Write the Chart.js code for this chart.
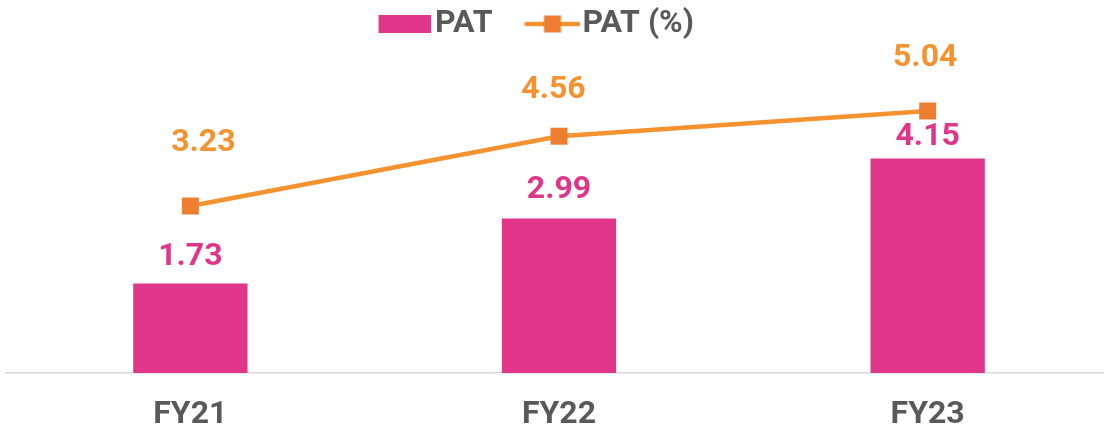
<!DOCTYPE html>
<html>
<head>
<meta charset="utf-8">
<script src="https://cdn.jsdelivr.net/npm/chart.js@4/dist/chart.umd.min.js"></script>
<style>
  html, body { margin: 0; padding: 0; background: #fff; overflow: hidden; }
  body { width: 1104px; height: 430px; position: relative; }
  /* canvas is wider than the window: plot area runs past the right edge like the original */
  #wrap { position: absolute; left: -65px; top: 0; width: 1177px; height: 430px; }
</style>
</head>
<body>
<div id="wrap"><canvas id="patChart"></canvas></div>
<script>
/* ---- data ---- */
const years = ['FY21', 'FY22', 'FY23'];
const patValues = [1.73, 2.99, 4.15];
const patPctValues = [3.23, 4.56, 5.04];
const seriesNames = ['PAT', 'PAT (%)'];

const PINK = '#E0368A';
const ORANGE = '#F4922F';
const MARKER = '#ED7D31';
const GREY = '#595959';
const FONT = 'Roboto, sans-serif';

Chart.defaults.font.family = FONT;

/* legend icons drawn onto small canvases (pointStyle accepts a canvas) */
function barIcon() {
  const c = document.createElement('canvas');
  c.width = 89; c.height = 18;
  const g = c.getContext('2d');
  g.fillStyle = PINK;
  g.fillRect(37, 0, 52, 18);
  return c;
}

function lineIcon() {
  const c = document.createElement('canvas');
  c.width = 94; c.height = 18;
  const g = c.getContext('2d');
  g.strokeStyle = ORANGE;
  g.lineWidth = 4.5;
  g.lineCap = 'round';
  g.beginPath();
  g.moveTo(40, 9);
  g.lineTo(92, 9);
  g.stroke();
  g.fillStyle = MARKER;
  g.fillRect(57.5, 0.5, 17, 17);
  return c;
}

const legendIcons = [barIcon(), lineIcon()];

/* value labels above bars / points */
const valueLabels = {
  id: 'valueLabels',
  afterDatasetsDraw(chart, args, opts) {
    const ctx = chart.ctx;
    ctx.save();
    ctx.font = 'bold 32px ' + FONT;
    ctx.textAlign = 'center';
    ctx.textBaseline = 'alphabetic';
    chart.data.datasets.forEach((ds, di) => {
      const meta = chart.getDatasetMeta(di);
      ctx.fillStyle = opts.colors[di];
      meta.data.forEach((el, i) => {
        const cx = el.x + opts.shift[di][i];
        const cy = el.y - opts.lift[di][i];
        ctx.fillText(ds.data[i].toFixed(2), cx, cy + 11);
      });
    });
    ctx.restore();
  }
};

new Chart(document.getElementById('patChart'), {
  type: 'bar',
  data: {
    labels: years,
    datasets: [{
      label: seriesNames[0],
      data: patValues,
      backgroundColor: PINK,
      borderWidth: 0,
      categoryPercentage: 1,
      barPercentage: 0.31,
      yAxisID: 'y',
    }, {
      type: 'line',
      label: seriesNames[1],
      data: patPctValues,
      borderColor: ORANGE,
      borderWidth: 4.5,
      fill: false,
      tension: 0,
      pointStyle: 'rect',
      pointRadius: 12,
      pointHoverRadius: 12,
      pointBackgroundColor: MARKER,
      pointBorderWidth: 0,
      yAxisID: 'y1',
    }]
  },
  options: {
    responsive: true, maintainAspectRatio: false,
    animation: false,
    layout: { padding: 0, autoPadding: false },
    plugins: {
      legend: {
        position: 'top',
        labels: {
          usePointStyle: true,
          pointStyleWidth: 66,
          padding: 8,
          color: GREY,
          font: { size: 32, weight: 'bold' },
          generateLabels: chart => Chart.defaults.plugins.legend.labels.generateLabels(chart)
            .map((item, i) => ({ ...item, pointStyle: legendIcons[i] })),
        }
      },
      tooltip: { enabled: false },
      valueLabels: {
        colors: [PINK, ORANGE],
        lift: [[30, 31, 24], [66, 49.5, 56]],
        shift: [[0, 0, 0], [13, -5.5, -2.5]],
      }
    },
    scales: {
      x: {
        grid: { display: false, drawTicks: false },
        border: { display: true, color: '#D9D9D9', width: 1.5 },
        ticks: { color: GREY, padding: 23, font: { size: 32, weight: 'bold' } },
        afterFit: scale => { scale.height = 57; }
      },
      y: {
        min: 0, max: 6.248,
        grid: { display: false },
        border: { display: false },
        ticks: { display: false },
        afterFit: scale => { scale.width = 71; }
      },
      y1: {
        display: false,
        min: 0.0495, max: 6.202,
      }
    }
  },
  plugins: [valueLabels]
});
</script>
</body>
</html>
